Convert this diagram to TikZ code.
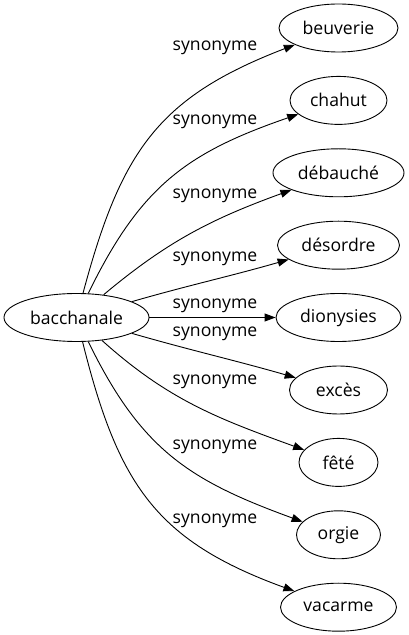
\documentclass[tikz,border=0pt]{standalone}
\usepackage{fontspec}
\setmainfont{Open Sans}
\usetikzlibrary{shapes.geometric,arrows.meta}

\begin{document}
\begin{tikzpicture}[x=1pt, y=1pt,
    word/.style={draw, ellipse, inner sep=0pt, minimum height=48pt,
      line width=0.9pt, font=\fontsize{17.6}{20}\selectfont},
    rel/.style={inner sep=0pt, font=\fontsize{17.6}{20}\selectfont},
    link/.style={line width=0.9pt, -{Triangle[length=11pt,width=8pt]}}]
	\useasboundingbox (0,0) rectangle (409,635);
	\node [word, minimum width=145pt] (0) at (76.5,317.5) {bacchanale};
	\node [word, minimum width=119pt] (1) at (338.5,607) {beuverie};
	\node [word, minimum width=97pt]  (2) at (338.5,534.6) {chahut};
	\node [word, minimum width=131pt] (3) at (338.5,462.2) {débauché};
	\node [word, minimum width=122pt] (4) at (338.5,389.8) {désordre};
	\node [word, minimum width=125pt] (5) at (338.5,317.5) {dionysies};
	\node [word, minimum width=98pt]  (6) at (338.5,245) {excès};
	\node [word, minimum width=79pt]  (7) at (338.5,172.6) {fêté};
	\node [word, minimum width=84pt]  (8) at (338.5,100.2) {orgie};
	\node [word, minimum width=116pt] (9) at (338.5,27.8) {vacarme};
	% edge labels
	\node [rel] (s1) at (215,587) {synonyme};
	\node [rel] (s2) at (215,513) {synonyme};
	\node [rel] (s3) at (215,439) {synonyme};
	\node [rel] (s4) at (215,376) {synonyme};
	\node [rel] (s5) at (215,329) {synonyme};
	\node [rel] (s6) at (215,301) {synonyme};
	\node [rel] (s7) at (215,253) {synonyme};
	\node [rel] (s8) at (215,188) {synonyme};
	\node [rel] (s9) at (215,114) {synonyme};
        \draw [link] (0) to [out=75, in=201, looseness=1.15] (1);
        \draw [link] (0) to [out=64, in=199, looseness=1.1] (2);
        \draw [link] (0) to [out=40, in=200] (3);
        \draw [link] (0) to [out=16, in=196] (4);
        \draw [link] (0) -- (5);
        \draw [link] (0) to [out=-16, in=164] (6);
        \draw [link] (0) to [out=-42, in=160] (7);
        \draw [link] (0) to [out=-64, in=160, looseness=1.1] (8);
        \draw [link] (0) to [out=-76, in=160, looseness=1.15] (9);
\end{tikzpicture}
\end{document}
